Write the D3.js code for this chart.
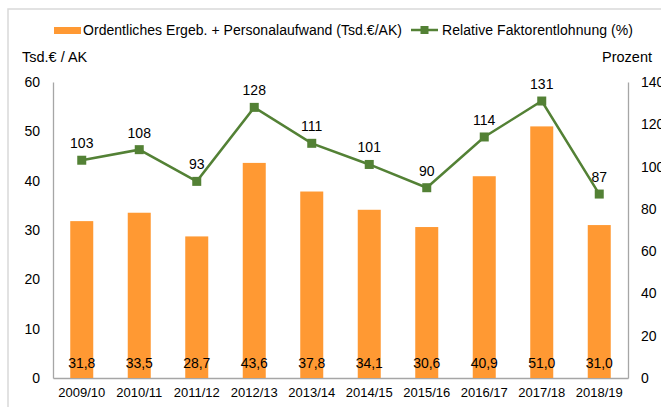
<!DOCTYPE html>
<html>
<head>
<meta charset="utf-8">
<script src="https://cdn.jsdelivr.net/npm/d3@7"></script>
<style>
  body { margin: 0; background: #fff; }
  svg text { font-family: "Liberation Sans", Arial, sans-serif; fill: #000; }
</style>
</head>
<body>
<div id="chart"></div>
<script>
// data
var years = ["2009/10", "2010/11", "2011/12", "2012/13", "2013/14", "2014/15", "2015/16", "2016/17", "2017/18", "2018/19"];
var ergebnis = [31.8, 33.5, 28.7, 43.6, 37.8, 34.1, 30.6, 40.9, 51.0, 31.0];
var faktor = [103, 108, 93, 128, 111, 101, 90, 114, 131, 87];
var leftTicks = [0, 10, 20, 30, 40, 50, 60];
var rightTicks = [0, 20, 40, 60, 80, 100, 120, 140];

var W = 661, H = 407;
var margin = {top: 82, right: 33, bottom: 29, left: 53};
var width = W - margin.left - margin.right,
    height = H - margin.top - margin.bottom;

var orange = "#FF9933", green = "#538135", axisGrey = "#A6A6A6";

var svg = d3.select("#chart").append("svg")
    .attr("width", W).attr("height", H);

// outer frame
svg.append("rect")
    .attr("x", 8).attr("y", 9)
    .attr("width", W).attr("height", H)
    .attr("fill", "none").attr("stroke", "#D9D9D9").attr("stroke-width", 1.5);

var g = svg.append("g").attr("transform", "translate(" + margin.left + "," + margin.top + ")");

var x = d3.scaleBand().domain(years).range([0, width]).paddingInner(0.6).paddingOuter(0.3);
var yL = d3.scaleLinear().domain([0, 60]).range([height, 0]);
var yR = d3.scaleLinear().domain([0, 140]).range([height, 0]);

// axes
var leftAxis = d3.axisLeft(yL).tickValues(leftTicks).tickSize(0).tickPadding(13);
var rightAxis = d3.axisRight(yR).tickValues(rightTicks).tickSize(0).tickPadding(13);
var bottomAxis = d3.axisBottom(x).tickSize(0).tickPadding(10);

function styleAxis(sel) {
  sel.select(".domain").attr("stroke", axisGrey).attr("stroke-width", 1.3);
  sel.selectAll("text").style("font-size", "14px").attr("fill", "#000");
}

g.append("g").call(leftAxis).call(styleAxis);
g.append("g").attr("transform", "translate(" + width + ",0)").call(rightAxis).call(styleAxis);
g.append("g").attr("transform", "translate(0," + height + ")").call(bottomAxis).call(styleAxis)
  .selectAll("text").style("font-size", "13px");

// bars
g.selectAll(".bar").data(ergebnis).enter().append("rect")
    .attr("class", "bar")
    .attr("x", function(d, i) { return x(years[i]); })
    .attr("width", x.bandwidth())
    .attr("y", function(d) { return yL(d); })
    .attr("height", function(d) { return height - yL(d); })
    .attr("fill", orange);

// bar labels near base
g.selectAll(".blabel").data(ergebnis).enter().append("text")
    .attr("x", function(d, i) { return x(years[i]) + x.bandwidth() / 2; })
    .attr("y", height - 15)
    .attr("dy", "0.35em")
    .attr("text-anchor", "middle")
    .style("font-size", "14px")
    .text(function(d) { return d.toFixed(1).replace(".", ","); });

// line
var cx = function(i) { return x(years[i]) + x.bandwidth() / 2; };
var line = d3.line()
    .x(function(d, i) { return cx(i); })
    .y(function(d) { return yR(d); });

g.append("path").datum(faktor)
    .attr("d", line)
    .attr("fill", "none").attr("stroke", green).attr("stroke-width", 2.5);

g.selectAll(".marker").data(faktor).enter().append("rect")
    .attr("x", function(d, i) { return cx(i) - 4.5; })
    .attr("y", function(d) { return yR(d) - 4.5; })
    .attr("width", 9).attr("height", 9)
    .attr("fill", green);

g.selectAll(".llabel").data(faktor).enter().append("text")
    .attr("x", function(d, i) { return cx(i); })
    .attr("y", function(d) { return yR(d) - 17; })
    .attr("dy", "0.35em")
    .attr("text-anchor", "middle")
    .style("font-size", "14px")
    .text(function(d) { return d; });

// axis titles
svg.append("text").attr("x", 22).attr("y", 57).attr("dy", "0.35em")
    .style("font-size", "14.5px").text("Tsd.€ / AK");
svg.append("text").attr("x", 602).attr("y", 57).attr("dy", "0.35em")
    .style("font-size", "14.5px").text("Prozent");

// legend
var lg = svg.append("g");
lg.append("rect").attr("x", 54).attr("y", 27).attr("width", 27).attr("height", 7).attr("fill", orange);
lg.append("text").attr("x", 83).attr("y", 30).attr("dy", "0.35em")
    .style("font-size", "14px").attr("textLength", 319)
    .text("Ordentliches Ergeb. + Personalaufwand (Tsd.€/AK)");
lg.append("line").attr("x1", 411).attr("x2", 438).attr("y1", 30).attr("y2", 30)
    .attr("stroke", green).attr("stroke-width", 2.5);
lg.append("rect").attr("x", 420.5).attr("y", 26).attr("width", 8).attr("height", 8).attr("fill", green);
lg.append("text").attr("x", 442).attr("y", 30).attr("dy", "0.35em")
    .style("font-size", "14px").attr("textLength", 191)
    .text("Relative Faktorentlohnung (%)");
</script>
</body>
</html>
